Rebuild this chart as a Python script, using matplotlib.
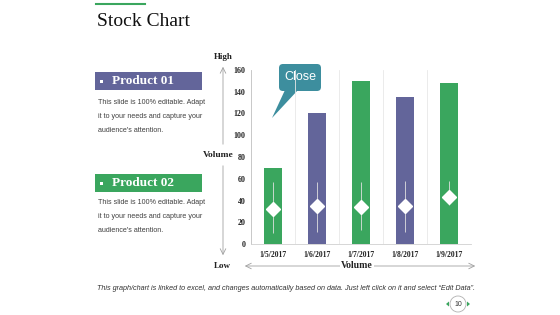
import matplotlib

matplotlib.use("Agg")
import matplotlib.pyplot as plt
from matplotlib.patches import FancyBboxPatch, Polygon, Rectangle, Circle
import numpy as np

# data
dates = ["1/5/2017", "1/6/2017", "1/7/2017", "1/8/2017", "1/9/2017"]
volume = [70, 120, 150, 135, 148]
high = [57, 57, 57, 58, 58]
low = [10, 11, 13, 11, 36]
close = [32, 35, 34, 35, 43]
y_ticks = [0, 20, 40, 60, 80, 100, 120, 140, 160]

GREEN = "#3AA65E"
PURPLE = "#63659A"
TEAL = "#3D8E9E"
bar_colors = [GREEN, PURPLE, GREEN, PURPLE, GREEN]

SERIF = "Liberation Serif"
SANS = "Liberation Sans"

W, H = 560, 315
fig = plt.figure(figsize=(W / 100, H / 100), dpi=100)

# overlay in pixel coords for slide decorations
bg = fig.add_axes([0, 0, 1, 1])
bg.set_xlim(0, W)
bg.set_ylim(H, 0)
bg.axis("off")

# chart axes
left, right, top, bottom = 251, 471, 70, 244
ax = fig.add_axes([left / W, 1 - bottom / H, (right - left) / W, (bottom - top) / H])
x = np.arange(len(dates))
ax.bar(x, volume, width=0.4, color=bar_colors, zorder=2)
ax.vlines(x, low, high, color="#e0e0e0", lw=0.6, zorder=3)
ax.plot(x, close, linestyle="none", marker="D", markersize=7,
        markerfacecolor="white", markeredgecolor="white", zorder=4)
ax.set_xlim(-0.5, len(dates) - 0.5)
ax.set_ylim(0, 160)
ax.set_yticks(y_ticks)
ax.set_yticklabels([str(t) for t in y_ticks], fontfamily=SERIF,
                   fontweight="bold", fontsize=5.8, color="#222222")
ax.set_xticks(x)
ax.set_xticklabels(dates, fontfamily=SERIF, fontweight="bold",
                   fontsize=5.5, color="#222222")
ax.tick_params(axis="y", length=0, pad=4)
ax.tick_params(axis="x", length=0, pad=5)
for b in np.arange(0.5, len(dates), 1.0):
    ax.axvline(b, color="#e8e8e8", lw=0.6, zorder=1)
for s in ["top", "right"]:
    ax.spines[s].set_visible(False)
ax.spines["left"].set_color("#bfbfbf")
ax.spines["left"].set_linewidth(0.6)
ax.spines["bottom"].set_color("#d0d0d0")
ax.spines["bottom"].set_linewidth(0.6)
ax.set_facecolor("none")

# title
bg.plot([96, 145], [4, 4], color=GREEN, lw=1.5)
bg.text(97, 22, "Stock Chart", fontfamily=SERIF, fontsize=14,
        color="#111111", va="center", ha="left")

# product boxes
body = "This slide is 100% editable. Adapt\nit to your needs and capture your\naudience's attention."
for (y0, col, name, ty) in [(72, PURPLE, "Product 01", 102), (174, GREEN, "Product 02", 203)]:
    bg.add_patch(Rectangle((95, y0), 107, 18, color=col, lw=0))
    bg.add_patch(Rectangle((100, y0 + 7.5), 3, 3, color="white", lw=0))
    bg.text(112, y0 + 9.5, name, fontfamily=SERIF, fontweight="bold",
            fontsize=9.5, color="white", va="center")
    bg.text(98, ty - 3.5, body, fontfamily=SANS, fontsize=5.1, color="#404040",
            va="top", linespacing=2.4)

# axis annotations
ann = dict(fontfamily=SERIF, fontweight="bold", color="#222222", va="center", ha="center")
bg.text(223, 57, "High", fontsize=6.5, **ann)
bg.text(218, 155, "Volume", fontsize=6.8, **ann)
bg.text(222, 266, "Low", fontsize=6.5, **ann)
bg.text(357, 266, "Volume", fontsize=7, zorder=5,
        bbox=dict(facecolor="white", edgecolor="none", pad=1), **ann)
arrow = dict(arrowstyle="->", color="#a0a0a0", lw=0.6)
bg.annotate("", xy=(223, 64), xytext=(223, 147), arrowprops=arrow)
bg.annotate("", xy=(223, 258), xytext=(223, 163), arrowprops=arrow)
bg.annotate("", xy=(478, 266), xytext=(242, 266), arrowprops=dict(arrowstyle="<->", color="#a0a0a0", lw=0.6))

# callout
bg.add_patch(FancyBboxPatch((279, 64), 42, 27, boxstyle="round,pad=0,rounding_size=4",
                            color=TEAL, lw=0, zorder=6))
bg.add_patch(Polygon([(285, 90), (298, 90), (272, 118)], closed=True,
                     color=TEAL, lw=0, zorder=6))
bg.text(300, 77.5, "Close", fontfamily=SANS, fontsize=9, color="white",
        ha="center", va="center", zorder=7)

# footer
bg.text(97, 289, "This graph/chart is linked to excel, and changes automatically based on data. "
        "Just left click on it and select \u201cEdit Data\u201d.",
        fontfamily=SANS, fontstyle="italic", fontsize=5.25, color="#333333", va="center")
bg.add_patch(Circle((458, 304), 8, facecolor="white", edgecolor="#b0b0b0", lw=0.6))
bg.text(458, 304, "10", fontfamily=SANS, fontsize=5, color="#333333", ha="center", va="center")
bg.add_patch(Polygon([(446, 304), (449, 301.5), (449, 306.5)], color=GREEN, lw=0))
bg.add_patch(Polygon([(470, 304), (467, 301.5), (467, 306.5)], color=GREEN, lw=0))

fig.savefig("out.png", dpi=100)
